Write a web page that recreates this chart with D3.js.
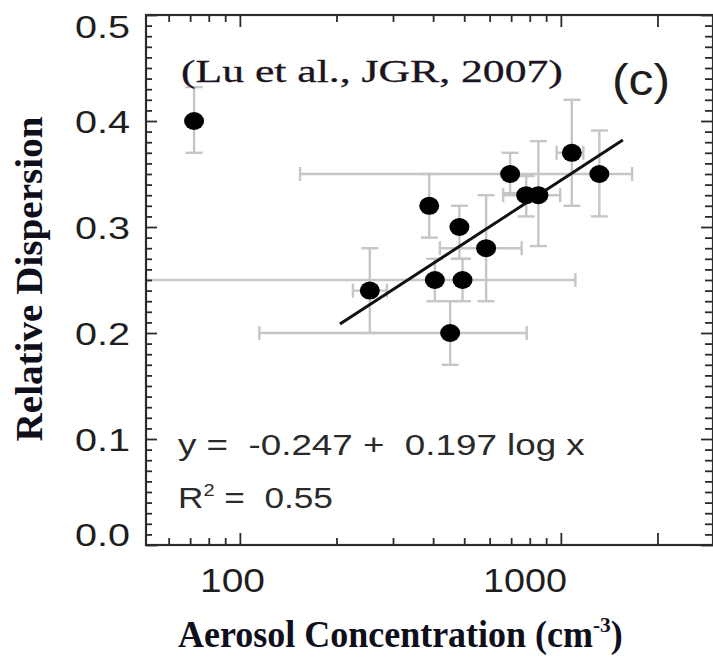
<!DOCTYPE html>
<html>
<head>
<meta charset="utf-8">
<script src="https://cdn.jsdelivr.net/npm/d3@7"></script>
<style>
  html, body { margin: 0; padding: 0; background: #fff; }
  svg { display: block; }
</style>
</head>
<body>
<svg id="chart" width="713" height="662"></svg>
<script>
// aerosol concentration (cm-3), relative dispersion, and the error bar ends
var conc    = [72, 254, 405, 494, 452, 585, 389, 483, 695, 780, 851, 1082, 1318];
var disp    = [0.40, 0.24, 0.25, 0.25, 0.20, 0.28, 0.32, 0.30, 0.35, 0.33, 0.33, 0.37, 0.35];
var dispLo  = [0.37, 0.20, 0.23, 0.23, 0.17, 0.23, 0.29, 0.27, 0.332, 0.31, 0.282, 0.32, 0.31];
var dispHi  = [0.432, 0.28, 0.27, 0.27, 0.23, 0.33, 0.35, 0.32, 0.37, 0.348, 0.381, 0.42, 0.391];
var concLo  = [72, 225, 40, 494, 115, 420, 389, 483, 154, 661, 851, 970, 1318];
var concHi  = [72, 287, 1110, 494, 783, 755, 389, 483, 1667, 995, 851, 1175, 1318];

// fit: y = -0.247 + 0.197 log x
var fitA = -0.247, fitB = 0.197;
var fitRange = [205, 1560];

var xMajor = [100, 1000, 2000];
var xMinor = [60, 70, 80, 90, 200, 300, 400, 500, 600, 700, 800, 900];
var xLabels = ["100", "1000"];
var yMajor = [0, 0.1, 0.2, 0.3, 0.4, 0.5];
var yLabels = ["0.0", "0.1", "0.2", "0.3", "0.4", "0.5"];

var svg = d3.select("#chart");
var pL = 146, pR = 714, pT = 15, pB = 545;
var sans = "'Liberation Sans', Arial, Helvetica, sans-serif";
var serif = "'Liberation Serif', 'Times New Roman', serif";
var axisCol = "#2b2b2b", barCol = "#c6c6c6";

var x = d3.scaleLog().domain([51, 3000]).range([pL, pR]);
var y = d3.scaleLinear().domain([0, 0.5]).range([pB, pT]);

var yMinor = d3.range(0.01, 0.5, 0.01).filter(function(v){ return Math.abs(v*10 - Math.round(v*10)) > 0.01; });

// stretch a text horizontally so it fills the given width
function fitText(g, w) {
	var t = g.select("text");
	var bw = t.node().getBBox().width;
	var tr = g.attr("transform");
	g.attr("transform", tr + " scale(" + (w / bw) + ",1)");
}

svg.append("clipPath").attr("id", "plotclip")
	.append("rect").attr("x", pL).attr("y", pT).attr("width", pR - pL).attr("height", pB - pT);

var plot = svg.append("g").attr("clip-path", "url(#plotclip)");

// error bars
var bars = plot.append("g").attr("stroke", barCol).attr("stroke-width", 2.4).attr("fill", "none");
conc.forEach(function(c, i) {
	var cx = x(c), cy = y(disp[i]);
	if (dispHi[i] !== dispLo[i]) {
		bars.append("line").attr("x1", cx).attr("x2", cx).attr("y1", y(dispLo[i])).attr("y2", y(dispHi[i]));
		[dispLo[i], dispHi[i]].forEach(function(v) {
			bars.append("line").attr("x1", cx - 8.5).attr("x2", cx + 8.5).attr("y1", y(v)).attr("y2", y(v));
		});
	}
	if (concHi[i] !== concLo[i]) {
		bars.append("line").attr("x1", x(concLo[i])).attr("x2", x(concHi[i])).attr("y1", cy).attr("y2", cy);
		[concLo[i], concHi[i]].forEach(function(v) {
			bars.append("line").attr("x1", x(v)).attr("x2", x(v)).attr("y1", cy - 7).attr("y2", cy + 7);
		});
	}
});

// regression line
var line = d3.line()
	.x(function(d) { return x(d); })
	.y(function(d) { return y(fitA + fitB * Math.log10(d)); });
plot.append("path").datum(fitRange)
	.attr("d", line)
	.attr("stroke", "#111").attr("stroke-width", 3).attr("fill", "none");

// points
plot.selectAll(".pt")
	.data(conc)
	.enter()
	.append("ellipse")
	.attr("class", "pt")
	.attr("cx", function(d) { return x(d); })
	.attr("cy", function(d, i) { return y(disp[i]); })
	.attr("rx", 10).attr("ry", 9)
	.attr("fill", "#000");

// axes, ticks point inward on all four sides
function ticks(axis, vals, size, pos) {
	var g = svg.append("g").attr("transform", pos)
		.call(axis.tickValues(vals).tickSize(size).tickSizeOuter(0).tickFormat(""));
	g.select(".domain").remove();
	g.selectAll("line").attr("stroke", axisCol).attr("stroke-width", 1.8);
	return g;
}
ticks(d3.axisBottom(x), xMajor, -12, "translate(0," + pB + ")");
ticks(d3.axisBottom(x), xMinor, -7, "translate(0," + pB + ")");
ticks(d3.axisTop(x), xMajor, -12, "translate(0," + pT + ")");
ticks(d3.axisTop(x), xMinor, -7, "translate(0," + pT + ")");
ticks(d3.axisLeft(y), yMajor, -11, "translate(" + pL + ",0)");
ticks(d3.axisLeft(y), yMinor, -6, "translate(" + pL + ",0)");
ticks(d3.axisRight(y), yMajor, -12, "translate(" + (pR - 1) + ",0)");
ticks(d3.axisRight(y), yMinor, -8, "translate(" + (pR - 1) + ",0)");

svg.append("rect")
	.attr("x", pL).attr("y", pT).attr("width", pR - pL - 1).attr("height", pB - pT)
	.attr("fill", "none").attr("stroke", axisCol).attr("stroke-width", 2.2);

// y tick labels; the end labels sit a little inside their ticks
var yLabelShift = [-11, 0, 0, 0, 0, 11];
yMajor.forEach(function(v, i) {
	var g = svg.append("g").attr("transform", "translate(130," + (y(v) + 12 + yLabelShift[i]) + ")");
	g.append("text").attr("text-anchor", "end")
		.style("font-family", sans).style("font-size", "32px").attr("fill", "#1e1e1e")
		.text(yLabels[i]);
	fitText(g, 55);
});

// x tick labels (label box: right edge, width)
var xLabelBox = [[265, 65], [567, 84]];
xLabels.forEach(function(s, i) {
	var g = svg.append("g").attr("transform", "translate(" + xLabelBox[i][0] + ",592)");
	g.append("text").attr("text-anchor", "end")
		.style("font-family", sans).style("font-size", "34px").attr("fill", "#1e1e1e")
		.text(s);
	fitText(g, xLabelBox[i][1]);
});

// annotations inside the frame
var g1 = svg.append("g").attr("transform", "translate(181,82)");
g1.append("text").style("font-family", serif).style("font-size", "32px").attr("fill", "#1b1420")
	.attr("stroke", "#1b1420").attr("stroke-width", 0.3)
	.text("(Lu et al., JGR, 2007)");
fitText(g1, 382);

var g2 = svg.append("g").attr("transform", "translate(612,95)");
g2.append("text").style("font-family", sans).style("font-size", "44px").attr("fill", "#1e1e1e")
	.text("(c)");
fitText(g2, 58);

var g3 = svg.append("g").attr("transform", "translate(178,455)");
g3.append("text").style("font-family", sans).style("font-size", "30px").attr("fill", "#2a2a2a")
	.style("white-space", "pre")
	.text("y =  -0.247 +  0.197 log x");
fitText(g3, 407);

var g4 = svg.append("g").attr("transform", "translate(178,508)");
var t4 = g4.append("text").style("font-family", sans).style("font-size", "30px").attr("fill", "#2a2a2a")
	.style("white-space", "pre");
t4.append("tspan").text("R");
t4.append("tspan").attr("dy", -12).style("font-size", "17px").text("2");
t4.append("tspan").attr("dy", 12).text(" =  0.55");
fitText(g4, 155);

// axis titles
var g5 = svg.append("g").attr("transform", "translate(178,647)");
var t5 = g5.append("text").style("font-family", serif).style("font-size", "37px")
	.style("font-weight", "bold").attr("fill", "#0f0f1c");
t5.append("tspan").text("Aerosol Concentration (cm");
t5.append("tspan").attr("dy", -15).style("font-size", "22px").text("-3");
t5.append("tspan").attr("dy", 15).text(")");
fitText(g5, 445);

var g6 = svg.append("g").attr("transform", "translate(42,279) rotate(-90)");
g6.append("text").attr("text-anchor", "middle")
	.style("font-family", serif).style("font-size", "38px").style("font-weight", "bold").attr("fill", "#0f0f1c")
	.text("Relative Dispersion");
fitText(g6, 325);
</script>
</body>
</html>
